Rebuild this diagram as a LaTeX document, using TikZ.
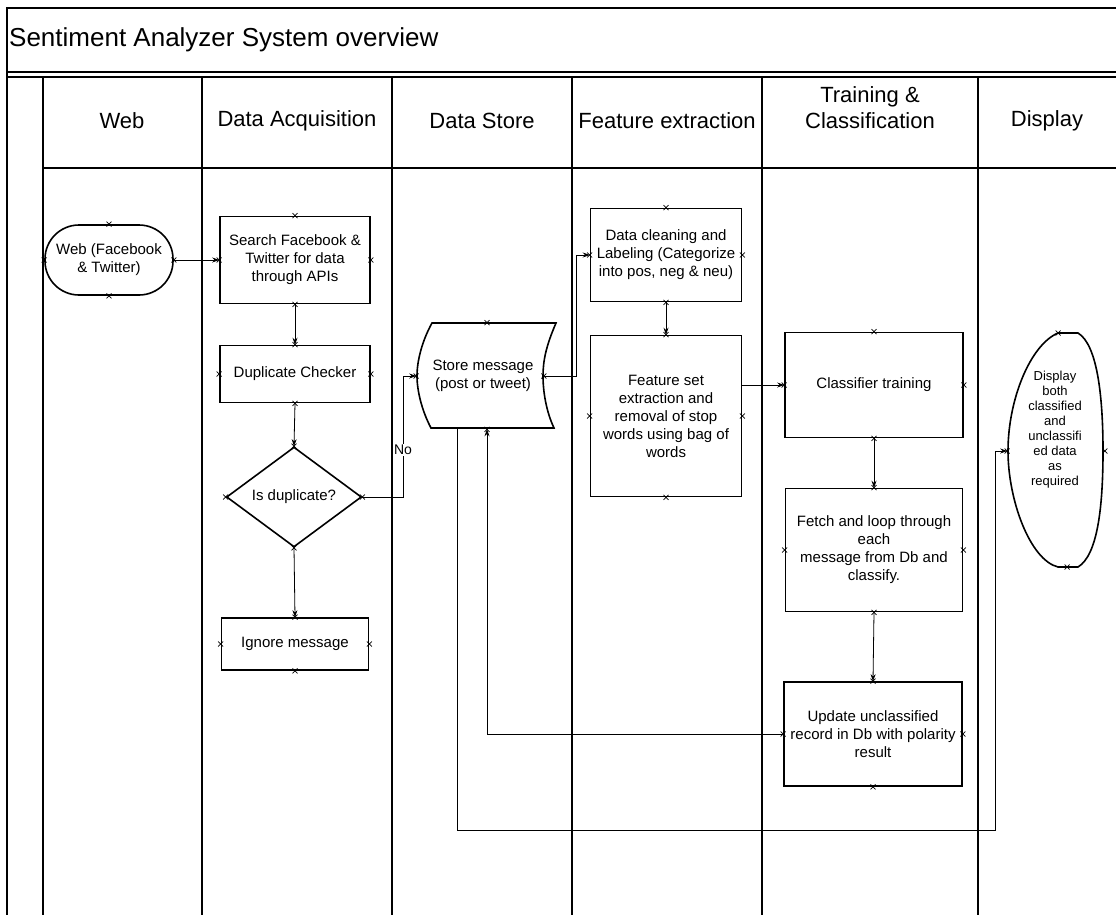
\documentclass[tikz,border=0pt]{standalone}
\usepackage{fontspec}
\setmainfont{Liberation Sans}
\usetikzlibrary{shapes.geometric,arrows.meta,calc}

\begin{document}
\begin{tikzpicture}[x=1pt,y=-1pt,
  lane/.style={line width=1.5pt},
  box/.style={draw,line width=1.6pt,align=center,inner sep=2pt,
    font=\fontsize{15}{18}\selectfont},
  flow/.style={line width=0.8pt,-{Stealth[length=7pt,width=5pt]}},
  head/.style={font=\fontsize{22}{26}\selectfont,align=center,inner sep=0pt},
  cpx/.pic={\draw[line width=0.7pt] (-2.5,-2.5)--(2.5,2.5) (-2.5,2.5)--(2.5,-2.5);}
]
\fill[white] (0,0) rectangle (1116,915);
\useasboundingbox (0,0) rectangle (1116,915);

% pool frame, title band and swimlanes
\draw[lane] (7,915) -- (7,8) -- (1116,8);
\draw[lane] (7,72) -- (1116,72);
\draw[lane] (7,77) -- (1116,77);
\draw[lane] (43,77) -- (43,915);
\draw[lane] (43,168) -- (1116,168);
\foreach \x in {202,392,572,762,978} \draw[lane] (\x,77) -- (\x,915);

\node[anchor=west,inner sep=0pt,font=\fontsize{26}{30}\selectfont] (title) at (9,40)
  {Sentiment Analyzer System overview};

\node[head] (hweb)  at (122,121) {Web};
\node[head] (hacq)  at (297,121) {Data Acquisition};
\node[head] (hstore) at (482,121) {Data Store};
\node[head] (hfeat) at (667,121) {Feature extraction};
\node[head] (htrain) at (870,108) {Training \&\\Classification};
\node[head] (hdisp) at (1047,121) {Display};

% process shapes
\node[box,rounded corners=34pt,minimum width=128pt,minimum height=70pt] (web) at (109,260)
  {Web (Facebook\\\& Twitter)};
\node[box,minimum width=150pt,minimum height=87pt] (search) at (295,260)
  {Search Facebook \&\\Twitter for data\\through APIs};
\node[box,minimum width=150pt,minimum height=57pt] (dup) at (295,374)
  {Duplicate Checker};
\node[box,diamond,aspect=1.35,inner sep=0pt,minimum width=135pt,minimum height=100pt] (dia) at (294,497)
  {Is duplicate?};
\node[box,minimum width=147pt,minimum height=52pt] (ignore) at (295,644)
  {Ignore message};

\node[box,draw=none,minimum width=126pt,minimum height=105pt] (store) at (480,376)
  {\hspace*{6pt}Store message\\\hspace*{6pt}(post or tweet)};
\draw[line width=1.6pt,shift={(store.center)}]
  (-48,-53) -- (76,-53) .. controls (66,-30) and (63,-15) .. (63,0)
  .. controls (63,15) and (66,35) .. (74,52) -- (-49,52)
  .. controls (-58,35) and (-63,15) .. (-63,0)
  .. controls (-63,-15) and (-58,-35) .. (-48,-53) -- cycle;

\node[box,minimum width=151pt,minimum height=93pt] (clean) at (666,255)
  {Data cleaning and\\Labeling (Categorize\\into pos, neg \& neu)};
\node[box,minimum width=151pt,minimum height=161pt] (feat) at (666,416)
  {Feature set\\extraction and\\removal of stop\\words using bag of\\words};

\node[box,minimum width=178pt,minimum height=105pt] (cls) at (874,385)
  {Classifier training};
\node[box,minimum width=177pt,minimum height=123pt] (fetch) at (874,550)
  {Fetch and loop through\\each\\message from Db and\\classify.};
\node[box,minimum width=178pt,minimum height=104pt] (upd) at (873,734)
  {Update unclassified\\record in Db with polarity\\result};

\node[box,draw=none,minimum width=96pt,minimum height=234pt] (disp) at (1056,451) {};
\draw[line width=1.6pt]
  (1058,333) -- (1078,333) .. controls (1098,345) and (1103,400) .. (1103,451)
  .. controls (1103,505) and (1098,555) .. (1078,567) -- (1058,567)
  .. controls (1030,560) and (1008,500) .. (1008,451)
  .. controls (1008,400) and (1030,345) .. (1058,333) -- cycle;
\node[align=center,inner sep=0pt,font=\fontsize{13}{15}\selectfont] (disptext) at (1055,430)
  {Display\\both\\classified\\and\\unclassifi\\ed data\\as\\required};

% connection points
\foreach \n in {web,search,dup,dia,ignore,clean,feat,cls,fetch,upd}{
  \foreach \a in {north,south,east,west}{ \pic at (\n.\a) {cpx}; }
}
\pic at ([xshift=7pt]store.north) {cpx};
\pic at ([xshift=7pt]store.south) {cpx};
\pic at (store.west) {cpx};
\pic at (store.east) {cpx};
\pic at (1058,333) {cpx};
\pic at (1067,567) {cpx};
\pic at (disp.west) {cpx};
\pic at (disp.east) {cpx};

% connectors
\draw[flow] (web.east) -- (search.west);
\draw[flow] (search.south) -- (dup.north);
\draw[flow] (dup.south) -- (dia.north);
\draw[flow] (dia.south) -- (ignore.north);
\coordinate (nobend) at (403,376);
\draw[flow] (dia.east) -| (nobend) -- (store.west);
\node[fill=white,inner sep=1pt,font=\fontsize{14}{16}\selectfont] (nolbl) at (403,450) {No};
\coordinate (cleanbend) at ($(clean.west)+(-13,0)$);
\draw[flow] (store.east) -| (cleanbend) -- (clean.west);
\draw[flow] (clean.south) -- (feat.north);
\draw[flow] (feat.east |- cls.west) -- (cls.west);
\draw[flow] (cls.south) -- (fetch.north);
\draw[flow] (fetch.south) -- (upd.north);
\draw[flow] (upd.west) -| ([xshift=7pt]store.south);
\coordinate (dispbend) at ($(disp.west)+(-12,0)$);
\draw[flow] ([xshift=-23pt]store.south) -- ++(0,401) -| (dispbend) -- (disp.west);
\end{tikzpicture}
\end{document}
